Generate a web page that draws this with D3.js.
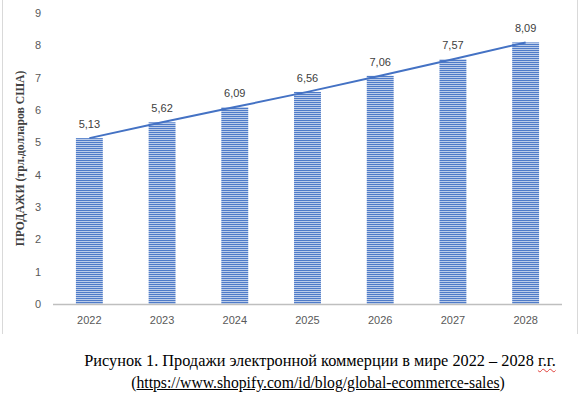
<!DOCTYPE html>
<html>
<head>
<meta charset="utf-8">
<script src="https://cdn.jsdelivr.net/npm/d3@7"></script>
<style>
  body { margin: 0; background: #fff; overflow: hidden; }
  #wrap { position: relative; width: 581px; height: 399px; }
  svg { display: block; }
  .caption {
    position: absolute;
    left: 59px;
    width: 522px;
    text-align: center;
    white-space: nowrap;
    font-family: "Liberation Serif", "Times New Roman", serif;
    line-height: 1;
    color: #000;
  }
  .spell { text-decoration: underline wavy #e0403a; text-decoration-thickness: 1px; text-underline-offset: 2px; }
  .link { text-decoration: underline; }
</style>
</head>
<body>
<div id="wrap"></div>
<script>
// Chart data
const years = ["2022", "2023", "2024", "2025", "2026", "2027", "2028"];
const sales = [5.13, 5.62, 6.09, 6.56, 7.06, 7.57, 8.09];
const yTicks = [0, 1, 2, 3, 4, 5, 6, 7, 8, 9];
const yTitle = "ПРОДАЖИ (трл.долларов США)";
const caption1 = "Рисунок 1. Продажи электронной коммерции в мире 2022 – 2028 ";
const captionMarked = "г.г.";
const captionUrl = "https://www.shopify.com/id/blog/global-ecommerce-sales";

const width = 581, height = 399;
const margin = { left: 53, right: 19, top: 13, bottom: 95 };
const blue = "#4472c4";

const wrap = d3.select("#wrap");
const svg = wrap
  .append("svg")
  .attr("width", width)
  .attr("height", height);

// Stripe pattern for the bars
const pat = svg.append("defs")
  .append("pattern")
  .attr("id", "stripes")
  .attr("patternUnits", "userSpaceOnUse")
  .attr("width", 4)
  .attr("height", 2);
pat.append("rect").attr("width", 4).attr("height", 2).attr("fill", "#d6e0f2");
pat.append("rect").attr("width", 4).attr("height", 1.2).attr("fill", "#4f7bc8");

// Chart frame (left and right edges)
svg.append("line")
  .attr("x1", 2.5).attr("x2", 2.5).attr("y1", 0).attr("y2", 334)
  .attr("stroke", "#d9d9d9");
svg.append("line")
  .attr("x1", 577.5).attr("x2", 577.5).attr("y1", 0).attr("y2", 334)
  .attr("stroke", "#d9d9d9");

const x = d3.scaleBand()
  .domain(years)
  .range([margin.left, width - margin.right])
  .paddingInner(0.63)
  .paddingOuter(0.315);

const y = d3.scaleLinear()
  .domain([0, 9])
  .range([height - margin.bottom, margin.top]);

const y0 = y(0);

// Y axis tick labels
svg.append("g")
  .selectAll("text")
  .data(yTicks)
  .enter()
  .append("text")
  .attr("x", 41)
  .attr("y", (d) => y(d))
  .attr("dy", "0.35em")
  .attr("text-anchor", "end")
  .style("font-family", "Liberation Sans, Arial, sans-serif")
  .style("font-size", "11px")
  .style("fill", "#595959")
  .text((d) => d);

// Bars
svg.append("g")
  .selectAll("rect")
  .data(sales)
  .enter()
  .append("rect")
  .attr("x", (d, i) => x(years[i]))
  .attr("y", (d) => y(d))
  .attr("width", x.bandwidth())
  .attr("height", (d) => y0 - y(d))
  .attr("fill", "url(#stripes)");

// Baseline
svg.append("line")
  .attr("x1", margin.left)
  .attr("x2", width - margin.right)
  .attr("y1", y0 + 0.5)
  .attr("y2", y0 + 0.5)
  .attr("stroke", "#bfbfbf")
  .attr("stroke-width", 1.3);

// X labels
svg.append("g")
  .selectAll("text")
  .data(years)
  .enter()
  .append("text")
  .attr("x", (d) => x(d) + x.bandwidth() / 2)
  .attr("y", y0 + 20)
  .attr("text-anchor", "middle")
  .style("font-family", "Liberation Sans, Arial, sans-serif")
  .style("font-size", "11px")
  .style("fill", "#595959")
  .text((d) => d);

// Trend line over the bar tops
const line = d3.line()
  .x((d, i) => x(years[i]) + x.bandwidth() / 2)
  .y((d) => y(d));

svg.append("path")
  .datum(sales)
  .attr("d", line)
  .attr("fill", "none")
  .attr("stroke", blue)
  .attr("stroke-width", 2);

// Value labels
svg.append("g")
  .selectAll("text")
  .data(sales)
  .enter()
  .append("text")
  .attr("x", (d, i) => x(years[i]) + x.bandwidth() / 2)
  .attr("y", (d) => y(d) - 10)
  .attr("text-anchor", "middle")
  .style("font-family", "Liberation Sans, Arial, sans-serif")
  .style("font-size", "11px")
  .style("fill", "#404040")
  .text((d) => d.toFixed(2).replace(".", ","));

// Y axis title
svg.append("text")
  .attr("transform", `translate(24,${(y(0) + y(9)) / 2}) rotate(-90)`)
  .attr("text-anchor", "middle")
  .style("font-family", "Liberation Serif, Times New Roman, serif")
  .style("font-weight", "bold")
  .style("font-size", "11.7px")
  .style("fill", "#404040")
  .text(yTitle);

// Caption below the chart (HTML so the spell-check squiggle renders)
const cap1 = wrap.append("div")
  .attr("class", "caption")
  .style("top", "353.3px")
  .style("font-size", "16.3px");
cap1.append("span").text(caption1);
cap1.append("span").attr("class", "spell").text(captionMarked);

const cap2 = wrap.append("div")
  .attr("class", "caption")
  .style("left", "57px")
  .style("top", "374.8px")
  .style("font-size", "15.7px");
cap2.append("span").text("(");
cap2.append("span").attr("class", "link").text(captionUrl);
cap2.append("span").text(")");
</script>
</body>
</html>
